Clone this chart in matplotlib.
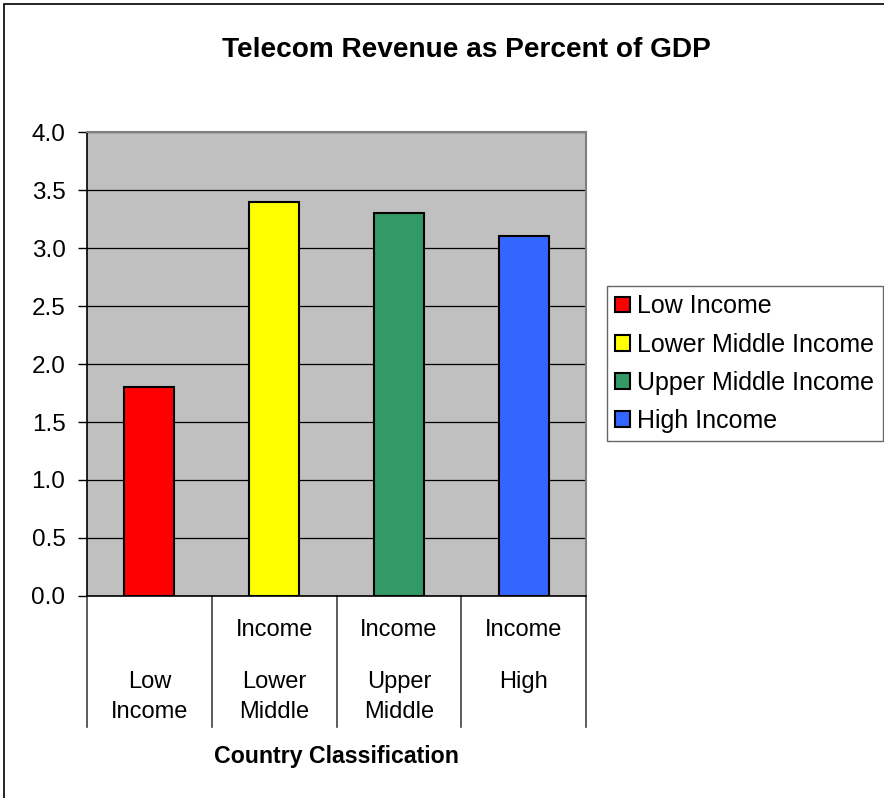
import matplotlib
matplotlib.use("Agg")
import matplotlib.pyplot as plt
from matplotlib.patches import Patch, Rectangle

plt.rcParams['font.family'] = ['Liberation Sans', 'DejaVu Sans']

# -------------------------------
# Data
# -------------------------------
categories = ['Low Income', 'Lower Middle Income', 'Upper Middle Income', 'High Income']
values = [1.8, 3.4, 3.3, 3.1]
bar_colors = ['#FF0000', '#FFFF00', '#339966', '#3366FF']
# category labels as they wrap in the original (top row, then two lower rows)
label_row1 = ['', 'Income', 'Income', 'Income']
label_row2 = ['Low', 'Lower', 'Upper', 'High']
label_row3 = ['Income', 'Middle', 'Middle', '']
yticks = [0.0, 0.5, 1.0, 1.5, 2.0, 2.5, 3.0, 3.5, 4.0]

# -------------------------------
# Figure
# -------------------------------
fig = plt.figure(figsize=(8.84, 7.98), dpi=100)
ax = fig.add_axes([87 / 884, 202 / 798, 499 / 884, 464 / 798])
ax.set_facecolor('#C0C0C0')

x = list(range(len(categories)))
ax.bar(x, values, width=0.4, color=bar_colors, edgecolor='black', linewidth=1.5, zorder=3)

ax.set_xlim(-0.5, len(categories) - 0.5)
ax.set_ylim(0, 4.0)
ax.set_yticks(yticks)
ax.set_yticklabels([f'{v:.1f}' for v in yticks], fontsize=17.5)
ax.yaxis.grid(True, color='black', linewidth=0.9, zorder=1)
ax.set_axisbelow(True)
ax.tick_params(axis='y', direction='out', length=6.5, width=1, pad=9)
ax.set_xticks([])

for side in ['top', 'right']:
    ax.spines[side].set_color('#808080')
    ax.spines[side].set_linewidth(1.5)
ax.spines['left'].set_linewidth(1.2)
ax.spines['bottom'].set_linewidth(1.2)

# category separators hanging below the axis
trans = ax.get_xaxis_transform()
for b in [i - 0.5 for i in range(len(categories) + 1)]:
    ax.plot([b, b], [0, -131 / 464], transform=trans, color='#404040',
            linewidth=1.2, clip_on=False)

# category labels, one row at a time
for i in x:
    for text, dy in [(label_row1[i], 34), (label_row2[i], 86), (label_row3[i], 116)]:
        if text:
            ax.text(i, -dy / 464, text, transform=trans, ha='center',
                    va='center', fontsize=17)

fig.text(336.5 / 884, 1 - 756 / 798, 'Country Classification', ha='center',
         va='center', fontsize=16.7, fontweight='bold')
fig.text(466 / 884, 1 - 50 / 798, 'Telecom Revenue as Percent of GDP',
         ha='center', va='center', fontsize=20.2, fontweight='bold')

# legend
handles = [Patch(facecolor=c, edgecolor='black', linewidth=1.5) for c in bar_colors]
leg = fig.legend(handles, categories, loc='upper left',
                 bbox_to_anchor=(607 / 884, 1 - 286 / 798), fontsize=18,
                 frameon=True, fancybox=False, shadow=False,
                 handlelength=0.6, handleheight=0.6, handletextpad=0.28,
                 labelspacing=0.57, borderpad=0.33, borderaxespad=0)
leg.get_frame().set_edgecolor('#404040')
leg.get_frame().set_linewidth(1.0)

# outer chart frame
fig.patches.append(Rectangle((4 / 884, -0.01), 1.0, 1 - 4 / 798 + 0.01,
                             transform=fig.transFigure, fill=False,
                             edgecolor='black', linewidth=1.2))

fig.savefig('out.png', dpi=100)
